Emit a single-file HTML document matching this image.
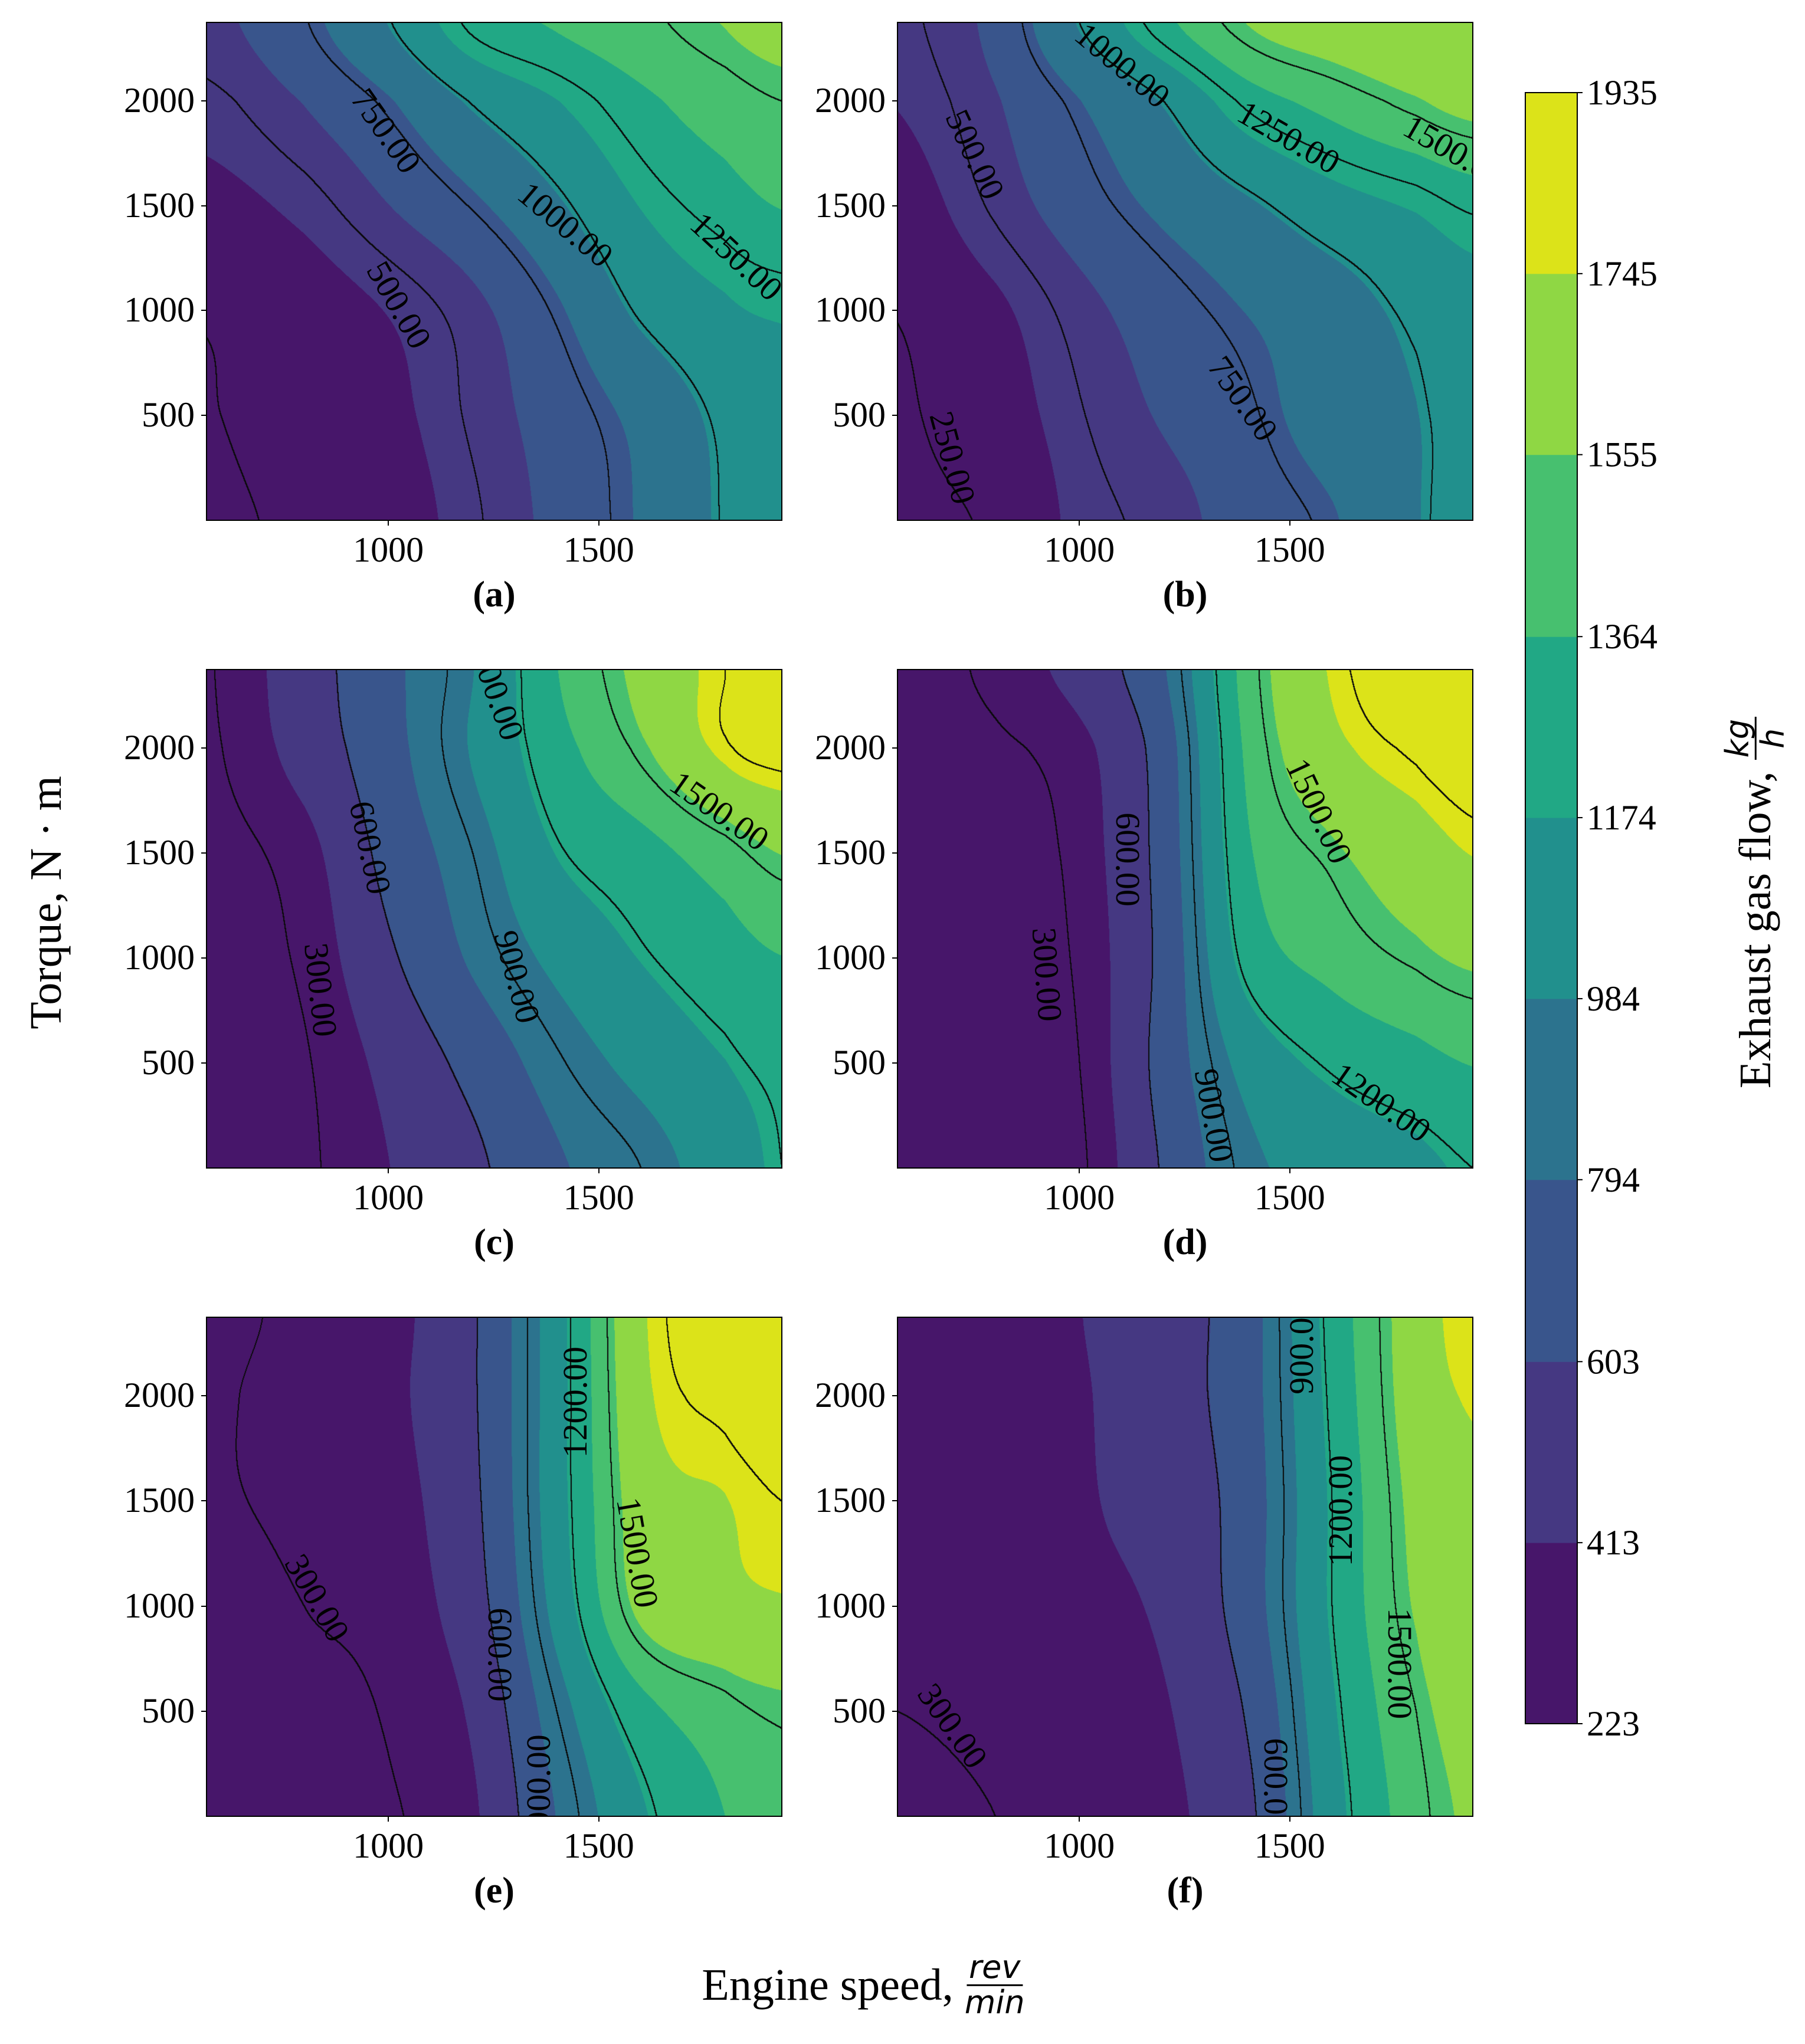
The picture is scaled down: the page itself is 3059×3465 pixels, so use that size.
<!DOCTYPE html>
<html><head><meta charset="utf-8">
<style>
html,body{margin:0;padding:0;background:#fff;}
body{width:3059px;height:3465px;position:relative;overflow:hidden;font-family:"Liberation Serif","DejaVu Serif",serif;}
.panel{position:absolute;overflow:hidden;box-sizing:content-box;}
.panel canvas{position:absolute;left:0;top:0;}
.frame{position:absolute;border:2px solid #000;box-sizing:border-box;pointer-events:none;}
.tl{position:absolute;font-size:60px;line-height:1;color:#000;white-space:nowrap;}
.cl{position:absolute;font-size:58px;line-height:1;color:#000;white-space:nowrap;transform-origin:center center;}
.tick{position:absolute;background:#000;}
.sub{position:absolute;font-size:62px;font-weight:bold;line-height:1;}
</style></head>
<body>
<div id="root"></div>
<script>
// ---- data ----
const speeds=[568,800,1000,1200,1400,1600,1800,1935];
const torques=[0,500,1000,1500,2000,2374];
const gridA=[
 [235,270,330,480,650,810,1010,1080],
 [245,300,370,520,680,840,1030,1100],
 [260,330,420,560,770,1020,1150,1190],
 [360,450,600,760,960,1180,1300,1370],
 [470,610,780,1010,1170,1330,1440,1500],
 [560,740,990,1280,1380,1470,1560,1610]];
const gridB=[
 [230,270,450,540,680,780,975,1030],
 [235,330,490,620,730,880,980,1050],
 [255,380,550,690,800,900,1030,1100],
 [330,520,690,830,960,1100,1190,1270],
 [420,590,790,1000,1280,1420,1540,1610],
 [470,650,1000,1320,1560,1650,1700,1730]];
const gridC=[
 [235,280,410,560,770,900,1080,1200],
 [245,290,460,660,880,1040,1170,1230],
 [250,320,570,820,1030,1180,1290,1360],
 [260,360,660,900,1180,1300,1450,1560],
 [280,480,730,1000,1300,1530,1780,1850],
 [290,510,750,980,1360,1600,1800,1900]];
const gridD=[
 [230,260,280,620,940,1050,1130,1200],
 [230,250,300,670,1050,1220,1310,1370],
 [230,250,320,660,1250,1420,1520,1580],
 [230,250,340,680,1340,1530,1660,1750],
 [230,280,370,700,1400,1700,1820,1880],
 [240,330,480,780,1440,1760,1880,1930]];
const gridE=[
 [230,255,290,390,800,1150,1364,1450],
 [240,270,310,440,900,1300,1460,1520],
 [260,300,340,520,1050,1600,1700,1730],
 [290,320,360,560,1100,1650,1740,1800],
 [290,330,380,580,1100,1700,1830,1890],
 [280,320,370,580,1100,1720,1860,1920]];
const gridF=[
 [240,300,340,380,560,1100,1450,1580],
 [300,340,370,400,620,1150,1500,1620],
 [340,370,390,440,700,1200,1570,1680],
 [350,370,400,480,700,1200,1600,1700],
 [350,370,400,520,720,1230,1640,1760],
 [350,370,410,520,720,1250,1650,1800]];
const levels=[223,413,603,794,984,1174,1364,1555,1745,1935];
const xTicks=[1000,1500];
const yTicks=[500,1000,1500,2000];
const lineStepAB=250, lineStepRest=300;

const colors=['#47166a','#453882','#39558c','#2c738e','#21908d','#21a885','#47c06f','#8fd744','#dce319'];
const K=2.217;
const colsX=[350,1521], PW=975;
const rowsY=[[38,882],[1135,1980],[2233,3079]];
const SMIN=568,SMAX=1935,TMAX=2374;

const panels=[
 {id:'a',g:gridA,step:lineStepAB,c:0,r:0,labels:[['750.00',295,100,55],['500.00',305,233,60],['1000.00',432,172,40],['1250.00',563,196,43]]},
 {id:'b',g:gridB,step:lineStepAB,c:1,r:0,labels:[['1000.00',858,50,40],['500.00',745,118,65],['1250.00',985,105,30],['1500.00',1112,116,30],['750.00',950,305,55],['250.00',728,350,75]]},
 {id:'c',g:gridC,step:lineStepRest,c:0,r:1,labels:[['1200.00',378,525,70],['600.00',283,648,78],['1500.00',550,620,35],['300.00',245,757,84],['900.00',395,747,75]]},
 {id:'d',g:gridD,step:lineStepRest,c:1,r:1,labels:[['1500.00',1008,620,65],['600.00',862,657,90],['300.00',800,745,86],['900.00',928,853,80],['1200.00',1056,843,35]]},
 {id:'e',g:gridE,step:lineStepRest,c:0,r:2,labels:[['1200.00',440,1072,-90],['300.00',242,1222,60],['1500.00',487,1187,80],['600.00',382,1265,90],['900.00',412,1362,-90]]},
 {id:'f',g:gridF,step:lineStepRest,c:1,r:2,labels:[['900.00',995,1030,-90],['1200.00',1025,1155,-90],['1500.00',1070,1272,90],['300.00',728,1320,55],['600.00',975,1365,90]]}
];

function fidx(arr,v){let i=0;while(i<arr.length-2&&v>arr[i+1])i++;
 const f=Math.max(0,Math.min(1,(v-arr[i])/(arr[i+1]-arr[i])));return [i,f];}
function cr(p0,p1,p2,p3,t){const t2=t*t,t3=t2*t;
 return 0.5*((2*p1)+(-p0+p2)*t+(2*p0-5*p1+4*p2-p3)*t2+(-p0+3*p1-3*p2+p3)*t3);}
function rowAt(r,i,f){const n=r.length;const g=k=>r[Math.max(0,Math.min(n-1,k))];
 return cr(g(i-1),g(i),g(i+1),g(i+2),f);}
function interp(g,s,t){
 const [i,fx]=fidx(speeds,s), [j,fy]=fidx(torques,t);
 const m=g.length;const gr=k=>rowAt(g[Math.max(0,Math.min(m-1,k))],i,fx);
 return cr(gr(j-1),gr(j),gr(j+1),gr(j+2),fy);
}
function band(v){let k=0;while(k<levels.length-2&&v>=levels[k+1])k++;return k;}
function hex(h){return [parseInt(h.substr(1,2),16),parseInt(h.substr(3,2),16),parseInt(h.substr(5,2),16)];}
const rgb=colors.map(hex);
const root=document.getElementById('root');

function mk(tag,cls,name,inter){const e=document.createElement(tag);if(cls)e.className=cls;
 
 
 return e;}

panels.forEach(p=>{
 const X0=colsX[p.c], Y0=rowsY[p.r][0], H=rowsY[p.r][1]-rowsY[p.r][0], W=PW;
 const xPix=s=>(s-SMIN)/(SMAX-SMIN)*W;
 const yPix=t=>H-t/TMAX*H;
 const div=mk('div','panel','contour-panel-'+p.id,false);
 div.style.left=X0+'px';div.style.top=Y0+'px';div.style.width=W+'px';div.style.height=H+'px';
 const cv=mk('canvas','','contour-fill-'+p.id,false);
 cv.width=W;cv.height=H;div.appendChild(cv);
 const ctx=cv.getContext('2d');const im=ctx.createImageData(W,H);const D=im.data;
 const vals=new Float32Array(W*H);
 for(let y=0;y<H;y++){const t=(H-y)/H*TMAX;for(let x=0;x<W;x++){const s=SMIN+x/W*(SMAX-SMIN);vals[y*W+x]=interp(p.g,s,t);}}
 for(let y=0;y<H;y++)for(let x=0;x<W;x++){
  const v=vals[y*W+x];const c=rgb[band(v)];const o=(y*W+x)*4;
  D[o]=c[0];D[o+1]=c[1];D[o+2]=c[2];D[o+3]=255;}
 for(let y=0;y<H-1;y++)for(let x=0;x<W-1;x++){
  const li=Math.floor(vals[y*W+x]/p.step);
  const lr=Math.floor(vals[y*W+x+1]/p.step), lb=Math.floor(vals[(y+1)*W+x]/p.step);
  if(li!==lr||li!==lb){
   [[0,0],[1,0],[0,1]].forEach(([dx,dy])=>{const o=((y+dy)*W+x+dx)*4;D[o]=10;D[o+1]=10;D[o+2]=10;});
  }}
 ctx.putImageData(im,0,0);
 p.labels.forEach(l=>{
  const e=mk('div','cl','contour-label-'+p.id,false);
  e.textContent=l[0];
  const cx=l[1]*K-X0, cy=l[2]*K-Y0;
  e.style.left=cx+'px';e.style.top=cy+'px';
  e.style.transform='translate(-50%,-50%) rotate('+l[3]+'deg)';
  div.appendChild(e);
 });
 root.appendChild(div);
 const fr=mk('div','frame','panel-frame-'+p.id,false);
 fr.style.left=(X0-1)+'px';fr.style.top=(Y0-1)+'px';fr.style.width=(W+2)+'px';fr.style.height=(H+2)+'px';
 root.appendChild(fr);
 xTicks.forEach(v=>{
  const tk=mk('div','tick','x-tick-'+p.id,false);
  tk.style.left=(X0+xPix(v)-1)+'px';tk.style.top=(Y0+H)+'px';tk.style.width='2px';tk.style.height='9px';root.appendChild(tk);
  const lb=mk('div','tl','x-tick-label-'+p.id,false);lb.textContent=v;
  lb.style.left=(X0+xPix(v))+'px';lb.style.top=(Y0+H+20)+'px';lb.style.transform='translateX(-50%)';root.appendChild(lb);
 });
 yTicks.forEach(v=>{
  const tk=mk('div','tick','y-tick-'+p.id,false);
  tk.style.left=(X0-9)+'px';tk.style.top=(Y0+yPix(v)-1)+'px';tk.style.width='9px';tk.style.height='2px';root.appendChild(tk);
  const lb=mk('div','tl','y-tick-label-'+p.id,false);lb.textContent=v;
  lb.style.right=(3059-X0+20)+'px';lb.style.top=(Y0+yPix(v)-31)+'px';root.appendChild(lb);
 });
 const sb=mk('div','sub','subplot-label-'+p.id,false);sb.textContent='('+p.id+')';
 sb.style.left=(X0+W/2)+'px';sb.style.top=(Y0+H+95)+'px';sb.style.transform='translateX(-50%)';root.appendChild(sb);
});

// colorbar
(function(){
 const CX=2585,CW=88,CT=157,CB=2922;
 const yC=v=>CB-(v-levels[0])/(levels[levels.length-1]-levels[0])*(CB-CT);
 const ns='http://www.w3.org/2000/svg';
 const svg=document.createElementNS(ns,'svg');
 
 
 svg.setAttribute('width','3059');svg.setAttribute('height','3465');
 svg.style.position='absolute';svg.style.left='0';svg.style.top='0';
 for(let i=0;i<levels.length-1;i++){
  const r=document.createElementNS(ns,'rect');
  
  
  r.setAttribute('x',CX);r.setAttribute('y',yC(levels[i+1]));r.setAttribute('width',CW);
  r.setAttribute('height',yC(levels[i])-yC(levels[i+1])+0.5);r.setAttribute('fill',colors[i]);svg.appendChild(r);
 }
 const fr=document.createElementNS(ns,'rect');
 
 
 fr.setAttribute('x',CX);fr.setAttribute('y',CT);fr.setAttribute('width',CW);fr.setAttribute('height',CB-CT);
 fr.setAttribute('fill','none');fr.setAttribute('stroke','#000');fr.setAttribute('stroke-width','2');svg.appendChild(fr);
 levels.forEach(v=>{
  const ln=document.createElementNS(ns,'line');
  
  
  ln.setAttribute('x1',CX+CW);ln.setAttribute('x2',CX+CW+9);ln.setAttribute('y1',yC(v));ln.setAttribute('y2',yC(v));
  ln.setAttribute('stroke','#000');ln.setAttribute('stroke-width','2');svg.appendChild(ln);
  const tx=document.createElementNS(ns,'text');
  
  
  tx.setAttribute('x',CX+CW+16);tx.setAttribute('y',yC(v)+20);tx.setAttribute('font-size','60');
  tx.setAttribute('font-family','Liberation Serif, serif');tx.textContent=v;svg.appendChild(tx);
 });
 root.appendChild(svg);
})();
</script>

<div style="position:absolute;left:78px;top:1530px;transform:translate(-50%,-50%) rotate(-90deg);font-size:76px;white-space:nowrap;line-height:1;">Torque, N · m</div>

<div style="position:absolute;left:1463px;top:3365px;transform:translate(-50%,-50%);font-size:76px;white-space:nowrap;display:flex;align-items:center;">
<span>Engine speed,&nbsp;</span>
<span style="display:inline-flex;flex-direction:column;align-items:center;font-family:'DejaVu Sans','Liberation Sans',sans-serif;font-style:italic;font-size:54px;line-height:1.05;">
<span style="border-bottom:3px solid #000;padding:0 4px;">rev</span><span>min</span></span>
</div>

<div style="position:absolute;left:2975px;top:1530px;transform:translate(-50%,-50%) rotate(-90deg);font-size:76px;white-space:nowrap;display:flex;align-items:center;">
<span>Exhaust gas flow,&nbsp;</span>
<span style="display:inline-flex;flex-direction:column;align-items:center;font-family:'DejaVu Sans','Liberation Sans',sans-serif;font-style:italic;font-size:54px;line-height:1.05;">
<span style="border-bottom:3px solid #000;padding:0 4px;">kg</span><span>h</span></span>
</div>
</body></html>
